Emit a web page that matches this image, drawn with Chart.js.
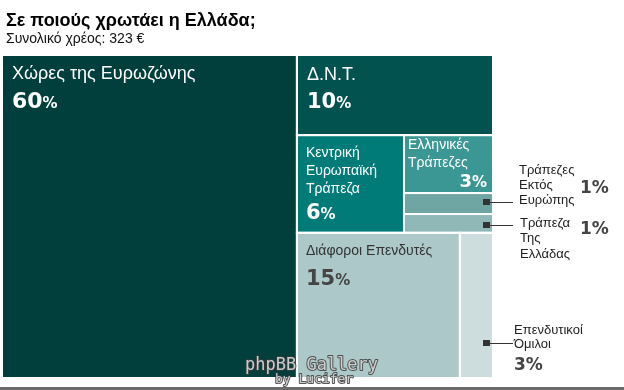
<!DOCTYPE html>
<html>
<head>
<meta charset="utf-8">
<script src="https://cdn.jsdelivr.net/npm/chart.js@4/dist/chart.umd.min.js"></script>
<style>
html,body{margin:0;padding:0;background:#fff;}
canvas{display:block;}
</style>
</head>
<body>
<canvas id="c" width="624" height="390"></canvas>
<script>
// ---- data ----
const chartTitle = 'Σε ποιούς χρωτάει η Ελλάδα;';
const chartSubtitle = 'Συνολικό χρέος: 323 €';
const categories = ['Χώρες της Ευρωζώνης','Δ.Ν.Τ.','Κεντρική Ευρωπαϊκή Τράπεζα','Ελληνικές Τράπεζες','Τράπεζες Εκτός Ευρώπης','Τράπεζα Της Ελλάδας','Διάφοροι Επενδυτές','Επενδυτικοί Όμιλοι'];
const debtBillions = [194, 32, 21.3, 10.5, 3.8, 3.4, 48.2, 9.8];
const percentLabels = ['60%','10%','6%','3%','1%','1%','15%','3%'];
const watermarkLines = ['phpBB Gallery','by Lucifer'];

// ---- styles ----
const cellColors = ['#013f3d','#02524f','#017b77','#3a9793','#6fa6a4','#90b8b7','#adc8c8','#cddcdc'];

// slice-and-dice structure (indices into categories)
const tree = {dir:'h', children:[0, {dir:'v', children:[1, {dir:'h', children:[2, {dir:'v', children:[3,4,5]}]}, {dir:'h', children:[6,7]}]}]};

function nodeSum(n){ return typeof n === 'number' ? debtBillions[n] : n.children.reduce((a,c)=>a+nodeSum(c),0); }
function layout(n, x0, y0, x1, y1, out){
  if (typeof n === 'number'){ out[n] = {x0,y0,x1,y1}; return; }
  const tot = nodeSum(n);
  let p = n.dir === 'h' ? x0 : y0;
  n.children.forEach(c => {
    const f = nodeSum(c)/tot;
    if (n.dir === 'h'){ const w = (x1-x0)*f; layout(c, p, y0, p+w, y1, out); p += w; }
    else { const h = (y1-y0)*f; layout(c, x0, p, x1, p+h, out); p += h; }
  });
}

const SANS = '"Liberation Sans", Arial, sans-serif';
const NUM = '"DejaVu Sans", Verdana, sans-serif';

function drawPct(ctx, txt, x, y, size, pctSize, color, align){
  const num = txt.replace('%','');
  ctx.fillStyle = color;
  ctx.textBaseline = 'alphabetic';
  ctx.textAlign = 'left';
  ctx.font = 'bold ' + size + 'px ' + NUM;
  const w1 = ctx.measureText(num).width;
  ctx.font = 'bold ' + pctSize + 'px ' + NUM;
  const w2 = ctx.measureText('%').width;
  let sx = align === 'right' ? x - w1 - w2 : x;
  ctx.font = 'bold ' + size + 'px ' + NUM;
  ctx.fillText(num, sx, y);
  ctx.font = 'bold ' + pctSize + 'px ' + NUM;
  ctx.fillText('%', sx + w1, y);
}
function drawLines(ctx, lines, x, y, lh, size, color){
  ctx.fillStyle = color; ctx.textAlign = 'left'; ctx.textBaseline = 'alphabetic';
  ctx.font = size + 'px ' + SANS;
  lines.forEach((l,i)=>ctx.fillText(l, x, y + i*lh));
}

const treemapPlugin = {
  id: 'treemapCells',
  beforeDraw(chart){
    const ctx = chart.ctx;
    ctx.save(); ctx.fillStyle = '#fff'; ctx.fillRect(0,0,chart.width,chart.height); ctx.restore();
  },
  beforeDatasetsDraw(chart){
    const ctx = chart.ctx, xs = chart.scales.x, ys = chart.scales.y;
    const rects = [];
    layout(tree, 0, 0, 1, 1, rects);
    const px = rects.map(r => ({
      x0: xs.getPixelForValue(r.x0), x1: xs.getPixelForValue(r.x1),
      y0: ys.getPixelForValue(r.y0), y1: ys.getPixelForValue(r.y1)
    }));
    ctx.save();
    px.forEach((r,i)=>{ ctx.fillStyle = cellColors[i]; ctx.fillRect(r.x0, r.y0, r.x1-r.x0, r.y1-r.y0); });
    ctx.strokeStyle = '#fff'; ctx.lineWidth = 2;
    px.forEach(r=>{ ctx.strokeRect(r.x0, r.y0, r.x1-r.x0, r.y1-r.y0); });

    // inner rects (after 1px white border)
    const R = px.map(r=>({l:r.x0+1, r:r.x1-1, t:r.y0+1, b:r.y1-1}));
    const words = i => categories[i].split(' ');

    // Eurozone
    drawLines(ctx, [categories[0]], R[0].l+9, R[0].t+23, 18, 18, '#fff');
    drawPct(ctx, percentLabels[0], R[0].l+9, R[0].t+52, 22, 15, '#fff');
    // IMF
    drawLines(ctx, [categories[1]], R[1].l+9, R[1].t+24, 18, 18, '#fff');
    drawPct(ctx, percentLabels[1], R[1].l+9, R[1].t+52, 21, 15, '#fff');
    // ECB
    drawLines(ctx, words(2), R[2].l+8, R[2].t+21, 18, 14, '#fff');
    drawPct(ctx, percentLabels[2], R[2].l+8, R[2].t+83, 21, 15, '#fff');
    // Greek banks
    drawLines(ctx, words(3), R[3].l+3, R[3].t+13, 18, 14, '#fff');
    drawPct(ctx, percentLabels[3], R[3].r-5, R[3].t+51, 18, 15, '#fff', 'right');
    // Various investors
    drawLines(ctx, [categories[6]], R[6].l+8, R[6].t+21, 18, 14, '#333');
    drawPct(ctx, percentLabels[6], R[6].l+8, R[6].t+51, 21, 15, '#444');

    // outside labels with connectors
    const callout = (i, my, tx, ty, lh, nx, ny) => {
      const sx = R[i].r - 6;
      ctx.fillStyle = '#333';
      ctx.fillRect(Math.round(sx-3.5), Math.round(my-3), 7, 6);
      ctx.strokeStyle = '#333'; ctx.lineWidth = 1;
      ctx.beginPath(); ctx.moveTo(sx+3, Math.round(my)+0.5); ctx.lineTo(513, Math.round(my)+0.5); ctx.stroke();
      drawLines(ctx, words(i), tx, ty, lh, 13, '#222');
      drawPct(ctx, percentLabels[i], nx, ny, 17, 17, '#444');
    };
    const c4 = (R[4].t+R[4].b)/2, c5 = (R[5].t+R[5].b)/2;
    callout(4, c4-2, 519, c4-29.5, 15, 580, c4-10.5);
    callout(5, c5+2, 520, c5+3.5, 15.5, 580, c5+10.5);
    const m7 = R[7].t + (R[7].b-R[7].t)*0.76;
    callout(7, m7, 514, m7-9, 14, 514, m7+27);
    ctx.restore();
  },
  afterDraw(chart){
    const ctx = chart.ctx;
    ctx.save();
    // titles
    ctx.textAlign = 'left'; ctx.textBaseline = 'alphabetic';
    ctx.fillStyle = '#000';
    ctx.font = 'bold 18px ' + SANS;
    ctx.fillText(chartTitle, 6, 26);
    ctx.font = '14px ' + SANS;
    ctx.fillStyle = '#111';
    ctx.fillText(chartSubtitle, 6, 43);
    // watermark
    ctx.globalAlpha = 0.85;
    ctx.lineJoin = 'round';
    ctx.font = '17px "DejaVu Sans Mono", monospace';
    ctx.strokeStyle = '#3a3a3a'; ctx.lineWidth = 2;
    ctx.strokeText(watermarkLines[0], 245, 370);
    ctx.fillStyle = '#e4e4e4';
    ctx.fillText(watermarkLines[0], 245, 370);
    ctx.font = '13px "DejaVu Sans Mono", monospace';
    ctx.strokeText(watermarkLines[1], 275, 383);
    ctx.fillText(watermarkLines[1], 275, 383);
    ctx.globalAlpha = 1;
    // bottom rule
    ctx.fillStyle = '#6b6b6b';
    ctx.fillRect(0, 387, 624, 3);
    ctx.restore();
  }
};

new Chart(document.getElementById('c').getContext('2d'), {
  type: 'scatter',
  data: { datasets: [{ label: 'debt', data: [], pointRadius: 0 }] },
  options: {
    responsive: false,
    animation: false,
    events: [],
    layout: { padding: { left: 2, right: 131, top: 55, bottom: 12 } },
    scales: {
      x: { type: 'linear', min: 0, max: 1, display: false },
      y: { type: 'linear', min: 0, max: 1, reverse: true, display: false }
    },
    plugins: { legend: { display: false }, tooltip: { enabled: false }, title: { display: false } }
  },
  plugins: [treemapPlugin]
});
</script>
</body>
</html>
